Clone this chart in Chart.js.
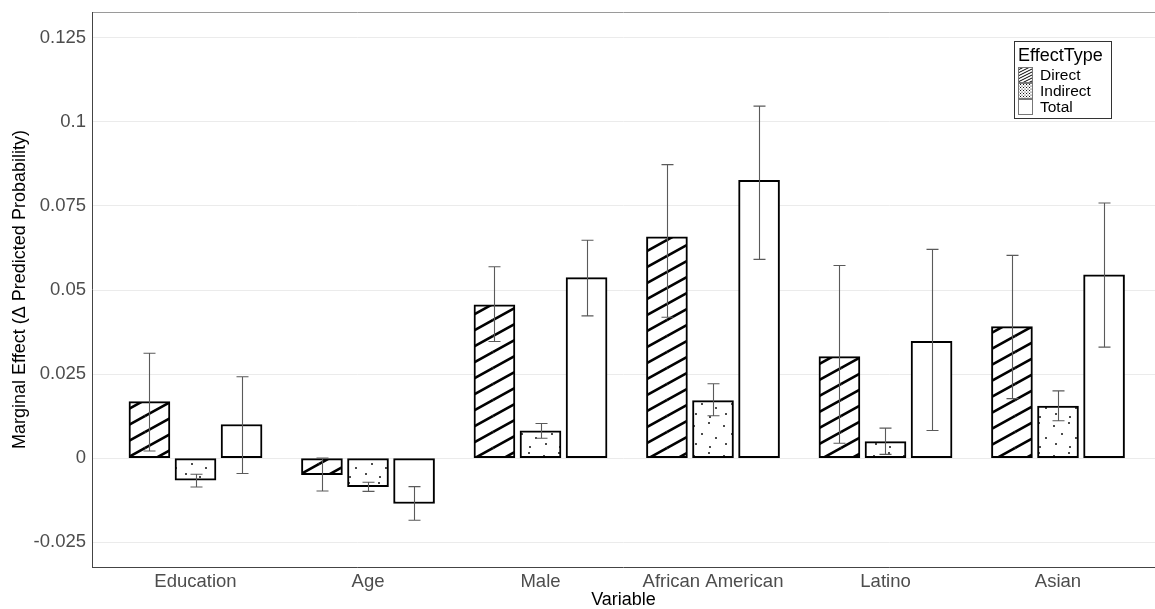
<!DOCTYPE html>
<html>
<head>
<meta charset="utf-8">
<script src="https://cdn.jsdelivr.net/npm/chart.js@4.4.1/dist/chart.umd.min.js"></script>
<style>
  html, body { margin: 0; padding: 0; background: #fff; overflow: hidden; }
  #wrap { width: 1155px; height: 609px; position: relative; }
</style>
</head>
<body>
<div id="wrap"><canvas id="c" width="1155" height="609"></canvas></div>
<script>
// ---- data ----
const categories = ['Education', 'Age', 'Male', 'African American', 'Latino', 'Asian'];
const effectTypes = ['Direct', 'Indirect', 'Total'];

const directValues   = [0.0168, -0.0049, 0.0456, 0.0658, 0.0302, 0.0391];
const directLower    = [0.0021, -0.0098, 0.0347, 0.0419, 0.0044, 0.0177];
const directUpper    = [0.0312,  0.0000, 0.0569, 0.0873, 0.0573, 0.0603];

const indirectValues = [-0.0066, -0.0085, 0.0081, 0.0171, 0.0049, 0.0155];
const indirectLower  = [-0.0086, -0.0099, 0.0059, 0.0126, 0.0011, 0.0111];
const indirectUpper  = [-0.0048, -0.0072, 0.0103, 0.0221, 0.0089, 0.0200];

const totalValues    = [0.0100, -0.0135, 0.0537, 0.0826, 0.0347, 0.0545];
const totalLower     = [-0.0046, -0.0185, 0.0423, 0.0591, 0.0082, 0.0330];
const totalUpper     = [0.0242, -0.0085, 0.0648, 0.1047, 0.0621, 0.0759];

const yTickValues = [-0.025, 0, 0.025, 0.05, 0.075, 0.1, 0.125];
const yTickLabels = ['-0.025', '0', '0.025', '0.05', '0.075', '0.1', '0.125'];

const xAxisTitle = 'Variable';
const yAxisTitle = 'Marginal Effect (\u0394 Predicted Probability)';
const legendTitle = 'EffectType';

// ---- styling helpers ----
const FONT = '"Liberation Sans", Arial, sans-serif';
const dodge = 0.267;

function stripeTile(w, h, lw) {
  const c = document.createElement('canvas');
  c.width = w; c.height = h;
  const g = c.getContext('2d');
  g.fillStyle = '#fff'; g.fillRect(0, 0, w, h);
  g.strokeStyle = '#000'; g.lineWidth = lw; g.lineCap = 'butt';
  for (let dx = -w; dx <= w; dx += w) {
    for (let dy = -h; dy <= h; dy += h) {
      g.beginPath();
      g.moveTo(dx, h + dy);
      g.lineTo(w + dx, dy);
      g.stroke();
    }
  }
  return c;
}
function dotTile(size, pts, r) {
  const c = document.createElement('canvas');
  c.width = size; c.height = size;
  const g = c.getContext('2d');
  g.fillStyle = '#fff'; g.fillRect(0, 0, size, size);
  g.fillStyle = '#111';
  pts.forEach(p => { g.beginPath(); g.arc(p[0], p[1], r, 0, Math.PI * 2); g.fill(); });
  return c;
}
const ctx = document.getElementById('c').getContext('2d');
const stripePattern = ctx.createPattern(stripeTile(29, 16, 2.6), 'repeat');
const dotPattern = ctx.createPattern(dotTile(30, [[4, 6], [19, 3], [12, 14], [26, 18], [6, 24], [20, 27]], 1.0), 'repeat');
const legendStripe = ctx.createPattern(stripeTile(6, 3, 1), 'repeat');
const legendDots = ctx.createPattern(dotTile(3, [[0.5, 0.5], [2, 2]], 0.6), 'repeat');

function mk(vals, off) { return vals.map((v, i) => ({ x: i + off, y: v })); }

const errorSets = [
  { off: -dodge, lo: directLower, hi: directUpper },
  { off: 0, lo: indirectLower, hi: indirectUpper },
  { off: dodge, lo: totalLower, hi: totalUpper }
];

const panelPlugin = {
  id: 'panel',
  beforeDatasetsDraw(chart) {
    const { ctx, chartArea: a } = chart;
    ctx.save();
    ctx.lineWidth = 1;
    ctx.strokeStyle = '#9a9a9a';
    ctx.beginPath(); ctx.moveTo(a.left, a.top + 0.5); ctx.lineTo(a.right, a.top + 0.5); ctx.stroke();
    ctx.strokeStyle = '#444';
    ctx.beginPath(); ctx.moveTo(a.left + 0.5, a.top); ctx.lineTo(a.left + 0.5, a.bottom); ctx.stroke();
    ctx.beginPath(); ctx.moveTo(a.left, a.bottom + 0.5); ctx.lineTo(a.right, a.bottom + 0.5); ctx.stroke();
    ctx.restore();
  },
  afterDatasetsDraw(chart) {
    const { ctx, scales: { x, y } } = chart;
    ctx.save();
    ctx.strokeStyle = '#5a5a5a';
    ctx.lineWidth = 1.1;
    errorSets.forEach(s => {
      categories.forEach((c, i) => {
        const px = Math.round(x.getPixelForValue(i + s.off)) + 0.5;
        const y1 = y.getPixelForValue(s.lo[i]);
        const y2 = y.getPixelForValue(s.hi[i]);
        ctx.beginPath();
        ctx.moveTo(px, y1); ctx.lineTo(px, y2);
        ctx.moveTo(px - 6, y1); ctx.lineTo(px + 6, y1);
        ctx.moveTo(px - 6, y2); ctx.lineTo(px + 6, y2);
        ctx.stroke();
      });
    });
    // legend
    const L = 1014, T = 41, W = 97, H = 77;
    ctx.fillStyle = '#fff';
    ctx.fillRect(L, T, W, H);
    ctx.strokeStyle = '#333';
    ctx.lineWidth = 1;
    ctx.strokeRect(L + 0.5, T + 0.5, W, H);
    ctx.fillStyle = '#000';
    ctx.textBaseline = 'alphabetic';
    ctx.textAlign = 'left';
    ctx.font = '18px ' + FONT;
    ctx.fillText(legendTitle, 1018, 61);
    const fills = [legendStripe, legendDots, '#fff'];
    ctx.font = '15.5px ' + FONT;
    effectTypes.forEach((t, k) => {
      const ky = 67 + k * 16;
      ctx.fillStyle = fills[k];
      ctx.fillRect(1018, ky, 14, 16);
      ctx.strokeStyle = '#777';
      ctx.strokeRect(1018.5, ky + 0.5, 14, 15);
      ctx.fillStyle = '#000';
      ctx.textBaseline = 'middle';
      ctx.fillText(t, 1040, ky + 8.5);
    });
    ctx.restore();
  }
};

const barCommon = {
  borderColor: '#000',
  borderWidth: 2,
  borderSkipped: false,
  barThickness: 41,
  grouped: false
};

new Chart(ctx, {
  type: 'bar',
  data: {
    datasets: [
      Object.assign({ label: effectTypes[0], data: mk(directValues, -dodge), backgroundColor: stripePattern }, barCommon),
      Object.assign({ label: effectTypes[1], data: mk(indirectValues, 0), backgroundColor: dotPattern }, barCommon),
      Object.assign({ label: effectTypes[2], data: mk(totalValues, dodge), backgroundColor: '#fff' }, barCommon)
    ]
  },
  options: {
    responsive: false,
    animation: false,
    devicePixelRatio: 1,
    layout: { padding: { top: 12, left: 0, right: 0, bottom: 0 } },
    plugins: { legend: { display: false }, tooltip: { enabled: false } },
    scales: {
      x: {
        type: 'linear',
        offset: false,
        min: -0.6,
        max: -0.6 + 1063 / 172.5,
        grid: { display: false, drawTicks: false },
        border: { display: false },
        afterBuildTicks(s) { s.ticks = categories.map((c, i) => ({ value: i })); },
        afterFit(s) { s.height = 42; s.paddingLeft = 0; s.paddingRight = 0; },
        ticks: {
          autoSkip: false,
          maxRotation: 0,
          padding: 4,
          color: '#4d4d4d',
          font: { family: FONT, size: 18.5 },
          callback: (v) => categories[Math.round(v)]
        },
        title: {
          display: true, text: xAxisTitle, color: '#000',
          font: { family: FONT, size: 18, lineHeight: 1.0 },
          padding: { top: 0, bottom: 0 }
        }
      },
      y: {
        type: 'linear',
        min: -0.0324,
        max: 0.1327,
        grid: { color: '#ebebeb', lineWidth: 1, drawTicks: false },
        border: { display: false },
        afterBuildTicks(s) { s.ticks = yTickValues.map(v => ({ value: v })); },
        afterFit(s) { s.width = 92; s.paddingTop = 0; s.paddingBottom = 0; },
        ticks: {
          padding: 6,
          color: '#4d4d4d',
          font: { family: FONT, size: 18.5 },
          callback: (v, i) => yTickLabels[i]
        },
        title: {
          display: true, text: yAxisTitle, color: '#000',
          font: { family: FONT, size: 18, lineHeight: 1.2 },
          padding: { top: 9, bottom: 0 }
        }
      }
    }
  },
  plugins: [panelPlugin]
});
</script>
</body>
</html>
